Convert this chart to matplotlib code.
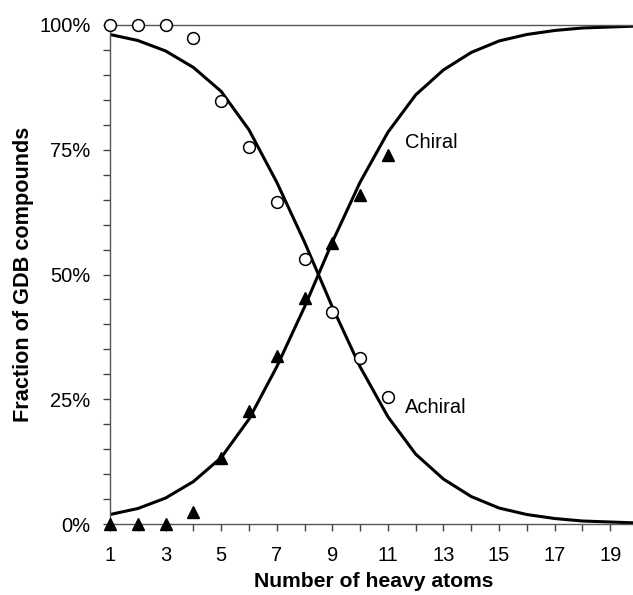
import matplotlib
matplotlib.use('Agg')
import matplotlib.pyplot as plt
from matplotlib.ticker import MultipleLocator, FixedLocator, PercentFormatter

plt.rcParams['font.family'] = ['Liberation Sans', 'DejaVu Sans']

# 数据：重原子数与手性/非手性比例
atoms = [1, 2, 3, 4, 5, 6, 7, 8, 9, 10, 11]
achiral_pts = [1.000, 1.000, 1.000, 0.973, 0.848, 0.755, 0.645, 0.532, 0.424, 0.332, 0.254]
chiral_pts = [0.000, 0.000, 0.000, 0.025, 0.132, 0.227, 0.337, 0.452, 0.563, 0.660, 0.740]

fit_x = list(range(1, 21))
chiral_fit = [0.019, 0.031, 0.052, 0.085, 0.133, 0.210, 0.315, 0.435, 0.565, 0.685,
              0.785, 0.860, 0.910, 0.945, 0.968, 0.981, 0.989, 0.994, 0.996, 0.998]
achiral_fit = [0.981, 0.969, 0.948, 0.915, 0.867, 0.790, 0.685, 0.565, 0.435, 0.315,
               0.215, 0.140, 0.090, 0.055, 0.032, 0.019, 0.011, 0.006, 0.004, 0.002]

fig = plt.figure(figsize=(6.33, 5.95), dpi=100)
# 坐标轴右端略超出画布（x=20 在画布外）
ax = fig.add_axes([110 / 633, 71 / 595, 528 / 633, 499 / 595])

ax.plot(fit_x, chiral_fit, color='black', lw=2.2, zorder=2)
ax.plot(fit_x, achiral_fit, color='black', lw=2.2, zorder=2)

ax.plot(atoms, achiral_pts, 'o', ms=8.5, mfc='white', mec='black', mew=1.1,
        clip_on=False, zorder=4)
ax.plot(atoms, chiral_pts, '^', ms=9, mfc='black', mec='black',
        clip_on=False, zorder=4)

ax.text(11.6, 0.764, 'Chiral', fontsize=14.5, va='center', ha='left')
ax.text(11.6, 0.234, 'Achiral', fontsize=14.5, va='center', ha='left')

ax.set_xlim(1, 20)
ax.set_ylim(0, 1)

ax.xaxis.set_major_locator(FixedLocator([1, 3, 5, 7, 9, 11, 13, 15, 17, 19]))
ax.xaxis.set_minor_locator(MultipleLocator(1))
ax.yaxis.set_major_locator(MultipleLocator(0.25))
ax.yaxis.set_minor_locator(MultipleLocator(0.05))
ax.yaxis.set_major_formatter(PercentFormatter(1.0, decimals=0))

ax.tick_params(axis='both', which='both', direction='out', color='#444444', width=1)
ax.tick_params(axis='both', which='major', length=5, labelsize=14.5)
ax.tick_params(axis='both', which='minor', length=5)
ax.tick_params(axis='x', pad=11)
ax.tick_params(axis='y', pad=9)

ax.spines['right'].set_visible(False)
for s in ['left', 'bottom', 'top']:
    ax.spines[s].set_color('#555555')
    ax.spines[s].set_linewidth(1.0)

ax.set_xlabel('Number of heavy atoms', fontsize=15.2, fontweight='bold', labelpad=5)
ax.set_ylabel('Fraction of GDB compounds', fontsize=15.6, fontweight='bold', labelpad=3.5)

fig.savefig('out.png', dpi=100)
plt.close(fig)
